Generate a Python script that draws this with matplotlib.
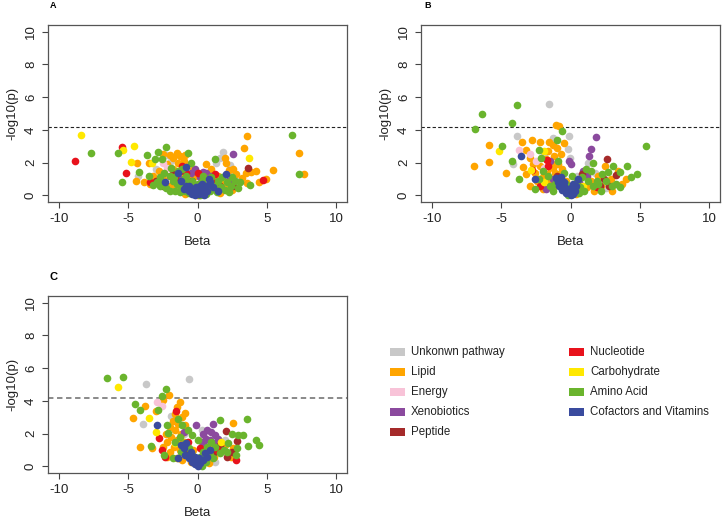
import matplotlib
matplotlib.use("Agg")
import matplotlib.pyplot as plt
from matplotlib.patches import Rectangle

plt.rcParams['font.family'] = ['Liberation Sans', 'DejaVu Sans']

# ---- data: (beta, -log10 p) ----
A_UNKNOWN = [(1.85, 2.68), (1.61, 2.28), (1.37, 1.97), (2.33, 1.87), (-2.24, 2.48), (-1.9, 2.1), (-4.28, 1.16),
             (-1.0, 1.9), (2.6, 1.2), (-3.0, 1.6), (0.9, 1.45), (-1.6, 0.9), (3.0, 0.9), (1.1, 0.5), (-0.6, 0.45)]
A_LIPID = [(3.54, 3.60), (3.37, 2.89), (7.34, 2.58), (7.70, 1.32), (5.46, 1.57), (4.98, 1.00), (4.45, 0.85),
           (4.2, 1.5), (3.9, 1.45), (3.5, 1.35), (3.6, 0.75), (3.2, 1.05), (2.8, 1.3), (2.3, 1.55), (2.09, 2.00),
           (2.0, 2.3), (2.6, 0.9), (2.2, 0.55), (1.8, 0.7), (1.5, 1.2), (1.0, 1.6), (0.6, 1.9), (0.5, 0.9),
           (1.2, 0.4), (0.3, 0.3), (-0.4, 0.2), (-0.3, 1.6), (-0.6, 1.0), (-0.91, 2.48), (-1.28, 2.38),
           (-1.0, 2.1), (-1.4, 2.0), (-1.8, 2.3), (-2.0, 2.48), (-1.5, 2.6), (-2.2, 1.9), (-2.5, 2.5),
           (-2.8, 1.5), (-2.5, 1.0), (-3.2, 1.2), (-3.4, 0.7), (-3.5, 2.0), (-3.9, 0.8), (-4.40, 2.01),
           (-4.45, 0.89), (-2.0, 0.6), (-1.6, 0.4), (-1.2, 1.2), (0.0, 0.05), (-0.9, 0.1), (1.6, 0.15), (2.5, 0.35),
           (-1.8, 1.6), (-1.0, 0.6), (1.3, 0.9), (2.6, 1.6), (-0.2, 1.2)]
A_ENERGY = [(-2.5, 2.0), (-2.2, 1.7), (-1.5, 1.3), (0.6, 0.8)]
A_XENO = [(2.53, 2.54), (0.4, 1.45), (0.65, 1.37), (1.0, 1.2), (0.2, 1.1), (-0.5, 1.4), (-0.2, 1.6), (2.2, 0.9),
          (-1.3, 1.0), (1.4, 0.8), (0.9, 0.6)]
A_PEPTIDE = [(3.66, 1.67), (-2.5, 0.6), (-1.0, 1.5), (1.6, 0.6), (-0.4, 0.9), (2.6, 0.6), (-3.0, 0.9), (-1.8, 1.3)]
A_NUCLEO = [(-8.83, 2.11), (-5.46, 2.93), (-5.13, 1.36), (4.74, 0.96), (-1.1, 1.8), (0.05, 1.37), (-0.8, 1.37),
            (-3.44, 0.79), (-1.6, 1.1), (1.0, 0.9), (-2.0, 1.2), (1.3, 1.3)]
A_CARB = [(-8.45, 3.70), (-5.41, 2.78), (-4.57, 3.03), (-4.77, 2.07), (3.73, 2.28), (-3.32, 1.98)]
A_AMINO = [(-7.66, 2.59), (-5.73, 2.59), (-5.42, 0.85), (-4.21, 1.46), (-3.64, 2.48), (-2.84, 2.68), (-2.24, 2.95),
           (-2.55, 2.2), (-3.1, 2.2), (-3.49, 1.2), (-3.2, 0.65), (-2.72, 0.55), (-0.68, 2.62), (1.25, 2.22),
           (6.81, 3.68), (7.34, 1.32), (3.78, 0.65), (2.94, 0.45), (-2.4, 1.4), (-2.0, 1.2), (-1.8, 0.9),
           (-1.5, 0.7), (-1.2, 0.5), (-0.9, 0.3), (-0.6, 0.15), (-1.0, 1.0), (-0.7, 0.8), (-0.3, 0.6), (-1.4, 1.5),
           (-2.7, 1.1), (-2.9, 0.8), (-1.9, 1.7), (-0.5, 2.0), (-0.8, 1.2), (0.3, 0.9), (0.6, 0.4), (0.9, 0.3),
           (1.2, 0.6), (1.5, 0.9), (1.8, 1.1), (2.1, 0.8), (2.4, 0.6), (2.7, 0.9), (1.0, 1.1), (0.6, 0.1),
           (1.4, 0.2), (2.0, 0.35), (-1.3, 0.2), (-2.0, 0.3), (-0.2, 0.3), (2.5, 1.1), (3.1, 0.8), (-2.3, 0.45),
           (-1.6, 0.25), (0.2, 0.05), (-0.4, 0.9), (0.0, 0.7), (0.4, 1.2), (-1.1, 1.6), (-1.7, 1.1), (1.7, 0.5),
           (2.3, 0.2), (-2.5, 0.8), (0.8, 0.7)]
A_COFACT = [(-0.84, 1.71), (-1.40, 1.37), (-2.36, 0.79), (2.09, 1.32), (1.49, 0.30), (-0.07, 0.24), (-0.8, 0.55),
            (0.3, 0.35), (-0.3, 0.4), (0.6, 0.55), (-0.6, 0.6), (0.9, 0.8), (0.1, 0.1), (-0.1, 0.5), (0.4, 0.15),
            (-0.4, 0.1), (0.8, 1.0), (0.2, 0.6), (0.5, 0.05), (-0.2, 0.05), (0.7, 0.25), (-0.6, 0.25), (1.1, 0.5),
            (-1.0, 0.4), (0.3, 0.7), (-1.2, 0.9)]

B_UNKNOWN = [(-1.57, 5.59), (-3.86, 3.60), (-0.12, 3.60), (-0.20, 2.83), (-0.05, 2.28), (1.25, 1.97), (-4.17, 1.93),
             (-1.25, 3.5), (2.53, 0.45), (0.5, 1.2), (-1.9, 2.5), (1.8, 1.4)]
B_LIPID = [(-1.03, 4.31), (-0.80, 4.25), (-5.86, 3.09), (-5.86, 2.07), (-7.0, 1.81), (-3.49, 3.29), (-2.77, 3.40),
           (-2.19, 3.29), (-3.2, 2.79), (-2.96, 2.28), (-3.45, 1.73), (-4.65, 1.40), (-1.52, 3.29), (-2.96, 0.55),
           (-1.3, 3.1), (-1.0, 2.9), (-1.6, 2.7), (-1.2, 2.4), (-0.7, 2.5), (-1.8, 2.2), (-1.4, 2.0), (-0.9, 1.9),
           (-2.2, 1.8), (-2.6, 1.4), (-1.7, 1.5), (-1.1, 1.4), (-2.4, 0.9), (-2.0, 1.1), (-1.5, 0.8), (-2.7, 1.9),
           (-0.5, 3.2), (-0.6, 1.6), (-3.2, 1.3), (-2.0, 0.4), (0.9, 1.3), (1.5, 0.9), (2.0, 1.2), (2.46, 1.81),
           (2.9, 1.0), (3.4, 1.5), (3.73, 0.69), (2.2, 0.6), (1.2, 0.5), (0.4, 0.1), (3.0, 0.3), (1.7, 0.25),
           (-0.3, 0.9), (4.0, 1.0), (-1.3, 1.7), (-0.8, 1.3), (-1.9, 1.3), (-1.2, 0.6)]
B_ENERGY = [(-3.69, 2.79), (-2.89, 2.52), (-2.5, 2.1), (-1.9, 1.7)]
B_XENO = [(1.86, 3.56), (1.45, 2.85), (1.33, 2.38), (-0.1, 2.1), (0.0, 1.9), (-1.5, 2.1), (0.9, 1.5), (1.2, 1.2),
          (-1.8, 0.4), (0.6, 0.8), (-1.3, 1.0)]
B_PEPTIDE = [(2.65, 2.22), (3.3, 1.25), (2.1, 0.6), (2.8, 0.55), (0.8, 1.3), (-1.0, 1.2), (2.4, 1.0)]
B_NUCLEO = [(-1.64, 1.77), (-2.77, 1.57), (-1.71, 2.18), (-2.2, 0.6), (0.5, 0.7), (1.9, 0.5), (-0.9, 1.0)]
B_CARB = [(-5.13, 2.73), (-2.84, 1.57), (-1.88, 2.73), (-1.9, 0.8), (0.9, 0.6), (-0.6, 0.5)]
B_AMINO = [(-3.86, 5.53), (-6.39, 4.98), (-4.22, 4.45), (-6.89, 4.05), (-4.94, 3.03), (-4.22, 2.12), (-3.69, 1.0),
           (-0.63, 3.96), (-0.96, 3.36), (-2.24, 2.79), (-2.1, 2.3), (1.64, 1.97), (5.49, 3.03), (3.08, 1.77),
           (4.10, 1.81), (3.61, 1.46), (4.39, 1.12), (4.77, 1.30), (3.3, 0.7), (3.0, 0.6), (2.6, 0.9), (2.3, 1.3),
           (1.9, 0.9), (1.5, 1.5), (1.1, 1.6), (0.8, 1.1), (0.5, 0.9), (0.3, 0.4), (1.0, 0.3), (1.6, 0.6),
           (2.2, 0.3), (-0.3, 0.7), (-0.7, 0.5), (-1.1, 0.7), (-1.6, 1.2), (-2.0, 1.5), (-2.3, 1.0), (-1.3, 0.3),
           (-0.5, 1.4), (0.1, 1.2), (-0.9, 2.1), (2.7, 1.45), (3.6, 0.5), (-2.6, 0.4), (0.6, 0.15), (-0.2, 0.05),
           (1.3, 0.9), (0.7, 0.5), (-1.5, 0.6), (2.0, 0.7)]
B_COFACT = [(-3.57, 2.42), (-2.60, 1.00), (-1.03, 1.06), (-0.80, 0.55), (0.0, 0.0), (0.53, 1.00), (-0.9, 0.8),
            (-0.6, 0.35), (-0.3, 0.15), (0.2, 0.1), (0.4, 0.6), (0.3, 0.3), (-0.45, 0.6), (-0.15, 0.4), (0.1, 0.5),
            (-0.7, 1.1), (-0.5, 0.8), (0.0, 0.25), (0.2, 0.7)]

C_UNKNOWN = [(-3.69, 5.06), (-0.60, 5.31), (-3.93, 2.60), (-1.88, 3.06), (0.3, 2.2), (-1.0, 2.0), (1.3, 0.3),
             (2.0, 1.6)]
C_LIPID = [(-2.05, 4.37), (-2.48, 4.04), (-3.81, 3.67), (-3.01, 3.37), (-4.65, 2.96), (-4.17, 1.16), (-3.3, 1.1),
           (-1.28, 3.96), (-0.92, 3.27), (-1.5, 3.6), (-1.6, 3.2), (-1.1, 3.0), (-1.8, 2.8), (-1.4, 2.6),
           (-0.9, 2.5), (-2.0, 2.4), (-1.6, 2.2), (-1.2, 2.0), (-2.3, 2.0), (-1.9, 1.8), (-1.5, 1.6), (-2.2, 1.5),
           (-1.0, 1.5), (-1.7, 1.2), (-2.5, 1.2), (-1.3, 1.0), (-2.0, 0.9), (-0.8, 0.7), (-1.5, 0.5), (-0.5, 0.3),
           (2.58, 2.65), (2.4, 0.55), (2.0, 1.3), (1.6, 1.0), (1.2, 0.6), (2.6, 1.1), (0.8, 0.2), (-0.3, 1.0),
           (1.0, 1.3), (-2.2, 0.6), (-1.1, 0.4)]
C_ENERGY = [(-2.96, 3.92), (-2.53, 3.67), (0.5, 1.8)]
C_XENO = [(1.13, 2.61), (-0.14, 2.53), (0.4, 2.0), (0.7, 2.2), (1.0, 2.1), (1.3, 1.9), (0.6, 1.7), (0.9, 1.6),
          (0.3, 1.5), (1.2, 1.4), (0.5, 1.3), (1.5, 1.7), (0.8, 1.0), (-1.0, 2.1)]
C_PEPTIDE = [(2.05, 2.14), (2.87, 1.57), (1.6, 1.3), (2.5, 0.9), (1.1, 0.8), (-0.7, 0.8), (2.1, 0.6)]
C_NUCLEO = [(-1.52, 3.37), (-2.78, 1.74), (-2.60, 1.02), (-2.36, 0.57), (-0.7, 1.5), (1.4, 1.0), (0.2, 1.1),
            (2.8, 0.4)]
C_CARB = [(-5.74, 4.86), (-3.50, 2.96), (-3.01, 2.11), (1.73, 1.47), (-1.6, 1.4), (-0.3, 0.6)]
C_AMINO = [(-6.54, 5.41), (-5.37, 5.43), (-2.24, 4.70), (-2.60, 4.29), (-4.53, 3.78), (-4.17, 3.47), (-2.85, 3.47),
           (1.61, 2.86), (-2.13, 2.04), (-3.33, 1.22), (-2.19, 2.55), (3.54, 2.92), (2.5, 2.0), (2.9, 1.9),
           (3.3, 1.9), (4.19, 1.59), (4.46, 1.29), (3.66, 1.22), (2.87, 1.12), (2.77, 0.71), (-1.4, 2.9),
           (-1.1, 2.5), (-0.7, 2.2), (-0.4, 1.9), (-1.3, 1.8), (-0.9, 1.4), (-0.6, 1.1), (-0.4, 0.7), (-0.2, 0.4),
           (-1.2, 0.9), (-1.8, 0.5), (0.2, 0.6), (0.4, 0.9), (0.7, 1.2), (1.0, 1.5), (1.3, 1.2), (1.6, 0.8),
           (1.9, 1.0), (2.2, 1.4), (0.6, 0.3), (1.1, 0.5), (2.1, 0.9), (0.0, 1.6), (-2.4, 0.7), (0.3, 0.05),
           (-1.6, 1.5), (0.9, 0.7)]
C_COFACT = [(-2.96, 2.55), (-0.80, 1.43), (-1.40, 0.51), (0.0, 0.0), (0.53, 0.82), (0.89, 1.02), (-1.0, 1.1),
            (-0.9, 0.7), (-0.6, 0.5), (-0.4, 0.3), (-0.2, 0.15), (0.2, 0.2), (0.4, 0.4), (0.7, 0.6), (-1.2, 1.3),
            (0.1, 0.5), (-0.5, 0.9), (0.0, 0.3), (-0.2, 0.6)]

CATEGORIES = ["Unkonwn pathway", "Lipid", "Energy", "Xenobiotics", "Peptide",
              "Nucleotide", "Carbohydrate", "Amino Acid", "Cofactors and Vitamins"]
COLORS = ["#C8C8C8", "#FFA500", "#F8C3D8", "#8B4A9E", "#A52A2A",
          "#E8121C", "#FFE800", "#6AB42D", "#3A4B9E"]
THRESHOLD = 4.15
X_TICKS = [-10, -5, 0, 5, 10]
Y_TICKS = [0, 2, 4, 6, 8, 10]

PANELS = {
    "A": [A_UNKNOWN, A_LIPID, A_ENERGY, A_XENO, A_PEPTIDE, A_NUCLEO, A_CARB, A_AMINO, A_COFACT],
    "B": [B_UNKNOWN, B_LIPID, B_ENERGY, B_XENO, B_PEPTIDE, B_NUCLEO, B_CARB, B_AMINO, B_COFACT],
    "C": [C_UNKNOWN, C_LIPID, C_ENERGY, C_XENO, C_PEPTIDE, C_NUCLEO, C_CARB, C_AMINO, C_COFACT],
}

W, H = 722, 518
fig = plt.figure(figsize=(W / 100, H / 100), dpi=100)


def px_box(left, top, right, bottom):
    return [left / W, 1 - bottom / H, (right - left) / W, (bottom - top) / H]


boxes = {
    "A": px_box(48, 25, 347, 202),
    "B": px_box(421, 25, 720, 202),
    "C": px_box(48, 296, 347, 473),
}
label_pos = {"A": (50, 6, 6.5), "B": (424, 6, 6.5), "C": (50, 277, 8)}


def draw_panel(name):
    ax = fig.add_axes(boxes[name])
    for pts, col in zip(PANELS[name], COLORS):
        xs = [p[0] for p in pts]
        ys = [p[1] for p in pts]
        ax.plot(xs, ys, 'o', color=col, markersize=5.5, markeredgewidth=0, zorder=2)
    if name == "C":
        ax.axhline(THRESHOLD, color="#808080", linestyle=(0, (3, 2)), linewidth=1.3, zorder=1)
    else:
        ax.axhline(THRESHOLD, color="#222222", linestyle=(0, (3, 2)), linewidth=0.8, zorder=1)
    ax.set_xlim(-10.8, 10.8)
    ax.set_ylim(-0.4, 10.4)
    ax.set_xticks(X_TICKS)
    ax.set_yticks(Y_TICKS)
    ax.set_xticklabels([str(t) for t in X_TICKS])
    ax.set_yticklabels([str(t) for t in Y_TICKS], rotation=90, va='center')
    ax.tick_params(direction='out', length=4, width=0.8, colors='#444444', labelcolor='#222222',
                   labelsize=9.5, pad=4)
    for s in ax.spines.values():
        s.set_color('#555555')
        s.set_linewidth(0.9)
    ax.set_xlabel("Beta", fontsize=9.5, color='#222222', labelpad=8)
    ax.set_ylabel("-log10(p)", fontsize=9.5, color='#222222', labelpad=5)
    lx, ly, fs = label_pos[name]
    fig.text(lx / W, 1 - ly / H, name, fontsize=fs, fontweight='bold', va='center', ha='left')


for nm in PANELS:
    draw_panel(nm)

# legend, two columns
rows = [352, 372, 392, 412, 432]
for i, (lab, col) in enumerate(zip(CATEGORIES, COLORS)):
    colx = 390 if i < 5 else 569
    yy = rows[i] if i < 5 else rows[i - 5]
    fig.add_artist(Rectangle((colx / W, 1 - (yy + 4) / H), 15 / W, 8 / H, facecolor=col,
                             edgecolor='none', transform=fig.transFigure))
    fig.text((colx + 21) / W, 1 - yy / H, lab, fontsize=8.3, va='center', ha='left', color='#222222')

fig.savefig("out.png", dpi=100)
